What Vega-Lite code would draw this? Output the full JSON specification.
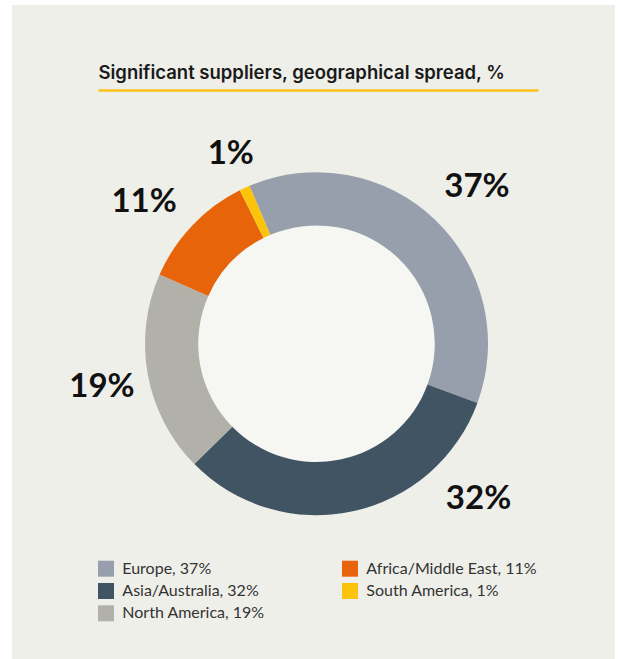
{
  "$schema": "https://vega.github.io/schema/vega-lite/v6.json",
  "width": 603,
  "height": 654,
  "autosize": {"type": "none"},
  "padding": {"left": 12, "top": 5, "right": 4, "bottom": 0},
  "background": "#ffffff",
  "view": {"fill": "#efefea", "stroke": null},
  "config": {"view": {"fill": "#efefea", "stroke": null}},
  "datasets": {
    "regions": [
      {"region": "Europe", "legend": "Europe, 37%", "share": 37, "label": "37%", "order": 1},
      {"region": "Asia/Australia", "legend": "Asia/Australia, 32%", "share": 32, "label": "32%", "order": 2},
      {"region": "North America", "legend": "North America, 19%", "share": 19, "label": "19%", "order": 3},
      {"region": "Africa/Middle East", "legend": "Africa/Middle East, 11%", "share": 11, "label": "11%", "order": 4},
      {"region": "South America", "legend": "South America, 1%", "share": 1, "label": "1%", "order": 5}
    ],
    "underline": [{"u": 0}],
    "hole": [{"h": 1}]
  },
  "layer": [
    {
      "data": {"name": "underline"},
      "mark": {"type": "point", "opacity": 0},
      "encoding": {
        "x": {
          "field": "u",
          "type": "quantitative",
          "scale": {"domain": [0, 1], "range": [86, 526]},
          "axis": {
            "orient": "top",
            "offset": -85,
            "domainColor": "#fbc21a",
            "domainWidth": 2.5,
            "ticks": false,
            "labels": false,
            "grid": false,
            "title": "Significant suppliers, geographical spread, %",
            "titleAnchor": "start",
            "titleAlign": "left",
            "titleFont": "Inter",
            "titleFontSize": 18.5,
            "titleFontWeight": 600,
            "titleColor": "#1a1a1a",
            "titleBaseline": "alphabetic",
            "titlePadding": 12
          }
        }
      }
    },
    {
      "data": {"name": "hole"},
      "mark": {"type": "circle", "size": 55980, "color": "#f6f6f2", "opacity": 1, "xOffset": 3, "yOffset": 11.7},
      "encoding": {}
    },
    {
      "data": {"name": "regions"},
      "mark": {"type": "arc", "innerRadius": 118.3, "outerRadius": 171.5, "xOffset": 3, "yOffset": 11.7},
      "encoding": {
        "theta": {"field": "share", "type": "quantitative", "stack": true, "scale": {"range": [-0.4014, 5.8818]}},
        "order": {"field": "order", "type": "quantitative"},
        "color": {
          "field": "legend",
          "type": "nominal",
          "scale": {
            "domain": ["Europe, 37%", "Asia/Australia, 32%", "North America, 19%", "Africa/Middle East, 11%", "South America, 1%"],
            "range": ["#989fac", "#415464", "#b1b1aa", "#e8640a", "#fcc30b"]
          },
          "legend": {
            "orient": "none",
            "legendX": 86,
            "legendY": 555.7,
            "direction": "vertical",
            "columns": 2,
            "columnPadding": 77,
            "rowPadding": 6.3,
            "symbolType": "square",
            "symbolSize": 256,
            "symbolStrokeWidth": 0,
            "labelFont": "Lato",
            "labelFontSize": 16,
            "labelColor": "#333333",
            "labelOffset": 8.3,
            "labelLimit": 300,
            "title": null,
            "padding": 0
          }
        }
      }
    },
    {
      "data": {"name": "regions"},
      "mark": {"type": "text", "radius": 222, "font": "Lato", "fontSize": 33, "fontWeight": "bold", "color": "#111111", "align": "center", "baseline": "middle", "xOffset": 3, "yOffset": 11.7, "dx": 7.4, "dy": 3.7},
      "encoding": {
        "theta": {"field": "share", "type": "quantitative", "stack": true},
        "order": {"field": "order", "type": "quantitative"},
        "text": {"condition": {"test": "datum.region !== 'Europe'", "value": ""}, "field": "label", "type": "nominal"}
      }
    },
    {
      "data": {"name": "regions"},
      "mark": {"type": "text", "radius": 222, "font": "Lato", "fontSize": 33, "fontWeight": "bold", "color": "#111111", "align": "center", "baseline": "middle", "xOffset": 3, "yOffset": 11.7, "dx": 115.1, "dy": -62},
      "encoding": {
        "theta": {"field": "share", "type": "quantitative", "stack": true},
        "order": {"field": "order", "type": "quantitative"},
        "text": {"condition": {"test": "datum.region !== 'Asia/Australia'", "value": ""}, "field": "label", "type": "nominal"}
      }
    },
    {
      "data": {"name": "regions"},
      "mark": {"type": "text", "radius": 222, "font": "Lato", "fontSize": 33, "fontWeight": "bold", "color": "#111111", "align": "center", "baseline": "middle", "xOffset": 3, "yOffset": 11.7, "dx": 3.8, "dy": 3.2},
      "encoding": {
        "theta": {"field": "share", "type": "quantitative", "stack": true},
        "order": {"field": "order", "type": "quantitative"},
        "text": {"condition": {"test": "datum.region !== 'North America'", "value": ""}, "field": "label", "type": "nominal"}
      }
    },
    {
      "data": {"name": "regions"},
      "mark": {"type": "text", "radius": 222, "font": "Lato", "fontSize": 33, "fontWeight": "bold", "color": "#111111", "align": "center", "baseline": "middle", "xOffset": 3, "yOffset": 11.7, "dx": -11.6, "dy": 11.1},
      "encoding": {
        "theta": {"field": "share", "type": "quantitative", "stack": true},
        "order": {"field": "order", "type": "quantitative"},
        "text": {"condition": {"test": "datum.region !== 'Africa/Middle East'", "value": ""}, "field": "label", "type": "nominal"}
      }
    },
    {
      "data": {"name": "regions"},
      "mark": {"type": "text", "radius": 222, "font": "Lato", "fontSize": 33, "fontWeight": "bold", "color": "#111111", "align": "center", "baseline": "middle", "xOffset": 3, "yOffset": 11.7, "dx": 7.4, "dy": 11.5},
      "encoding": {
        "theta": {"field": "share", "type": "quantitative", "stack": true},
        "order": {"field": "order", "type": "quantitative"},
        "text": {"condition": {"test": "datum.region !== 'South America'", "value": ""}, "field": "label", "type": "nominal"}
      }
    }
  ]
}
